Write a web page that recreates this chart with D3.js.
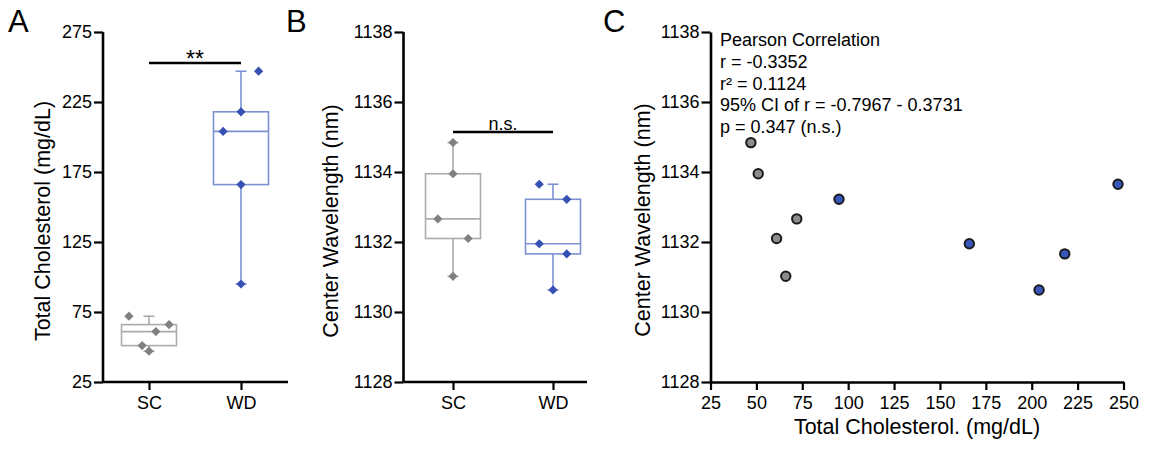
<!DOCTYPE html>
<html>
<head>
<meta charset="utf-8">
<script src="https://cdn.jsdelivr.net/npm/d3@7"></script>
<style>
  html, body { margin: 0; padding: 0; background: #fff; }
  svg { display: block; font-family: "Liberation Sans", Arial, sans-serif; }
</style>
</head>
<body>
<svg id="chart" width="1168" height="449"></svg>
<script>
// ---------- data (per animal, paired across panels) ----------
const groups = ["SC", "WD"];
const scCholesterol = [47, 51, 61, 66, 72];
const scWavelength  = [1134.84, 1133.95, 1132.10, 1131.02, 1132.66];
const wdCholesterol = [95, 166, 204, 218, 247];
const wdWavelength  = [1133.22, 1131.95, 1130.63, 1131.66, 1133.65];

const cholTicks = [25, 75, 125, 175, 225, 275];
const waveTicks = [1128, 1130, 1132, 1134, 1136, 1138];
const cholXTicks = [25, 50, 75, 100, 125, 150, 175, 200, 225, 250];

const statsLines = ["Pearson Correlation", "r = -0.3352", "r² = 0.1124",
                    "95% CI of r = -0.7967 - 0.3731", "p = 0.347 (n.s.)"];
const sigA = "**";
const sigB = "n.s.";

// ---------- layout / style (not data) ----------
const jitterA = { SC: [0, -0.25, 0.25, 0.73, -0.73], WD: [0, 0, -0.65, 0, 0.64] };
const jitterB = { SC: [0, 0, 0.55, 0, -0.55], WD: [0.5, -0.5, 0, 0.5, -0.5] };
const boxStroke = { SC: "#ababab", WD: "#7d91d2" };
const pointFill = { SC: "#808080", WD: "#3651b3" };
const dotFill = { SC: "#8c8c8c", WD: "#3757bd" };
const FONT_TICK = 18, FONT_TITLE = 21.5;

const svg = d3.select("#chart");

function styleAxis(g) {
  g.selectAll(".domain").attr("stroke", "#000").attr("stroke-width", 2.6);
  g.selectAll(".tick line").attr("stroke", "#000").attr("stroke-width", 2.2);
  g.selectAll(".tick text").attr("fill", "#000").attr("font-size", FONT_TICK)
    .attr("font-family", "Liberation Sans, Arial, sans-serif");
}

const diamond = (s) => `M0,${-s}L${s},0L0,${s}L${-s},0Z`;

function boxPanel(opt) {
  const g = svg.append("g");
  const y = d3.scaleLinear().domain(opt.yDomain).range([382, 32]);
  const x = d3.scalePoint().domain(groups).range(opt.xRange).padding(0.5);

  const yAxis = g.append("g").attr("transform", `translate(${opt.x0},0)`)
    .call(d3.axisLeft(y).tickValues(opt.yTicks).tickSize(9).tickSizeOuter(0).tickPadding(2)
      .tickFormat(d3.format("d")));
  styleAxis(yAxis);
  yAxis.select(".domain").attr("d", `M0,${y(opt.yDomain[0])}V${y(opt.yDomain[1])}`);

  const xAxis = g.append("g").attr("transform", `translate(0,${y(opt.yDomain[0])})`)
    .call(d3.axisBottom(x).tickSize(8).tickSizeOuter(0).tickPadding(6));
  styleAxis(xAxis);
  xAxis.select(".domain").attr("d", `M${opt.x0},0H${opt.x1}`);

  const halfW = 27.5;
  opt.series.forEach(([grp, vals, jit]) => {
    const cx = x(grp);
    const s = vals.slice().sort(d3.ascending);
    const q1 = d3.quantile(s, 0.25), med = d3.quantile(s, 0.5), q3 = d3.quantile(s, 0.75);
    const lo = s[0], hi = s[s.length - 1];
    const col = boxStroke[grp];
    const bg = g.append("g").attr("stroke", col).attr("stroke-width", 1.6).attr("fill", "none");
    bg.append("line").attr("x1", cx).attr("x2", cx).attr("y1", y(q3)).attr("y2", y(hi));
    bg.append("line").attr("x1", cx).attr("x2", cx).attr("y1", y(q1)).attr("y2", y(lo));
    bg.append("line").attr("x1", cx - 5.5).attr("x2", cx + 5.5).attr("y1", y(hi)).attr("y2", y(hi));
    bg.append("line").attr("x1", cx - 5.5).attr("x2", cx + 5.5).attr("y1", y(lo)).attr("y2", y(lo));
    bg.append("rect").attr("x", cx - halfW).attr("width", 2 * halfW)
      .attr("y", y(q3)).attr("height", y(q1) - y(q3));
    bg.append("line").attr("x1", cx - halfW).attr("x2", cx + halfW).attr("y1", y(med)).attr("y2", y(med));
    g.append("g").selectAll("path").data(vals).join("path")
      .attr("d", diamond(4.6))
      .attr("fill", pointFill[grp])
      .attr("transform", (d, i) => `translate(${cx + jit[i] * halfW},${y(d)})`);
  });

  // significance bar
  g.append("line").attr("x1", x("SC")).attr("x2", x("WD"))
    .attr("y1", opt.sigY).attr("y2", opt.sigY).attr("stroke", "#000").attr("stroke-width", 2.6);
  g.append("text").attr("x", (x("SC") + x("WD")) / 2 + opt.sigDx).attr("y", opt.sigTextY)
    .attr("text-anchor", "middle").attr("font-size", opt.sigSize).text(opt.sigText);

  // y title
  g.append("text").attr("transform", `translate(${opt.titleX},221) rotate(-90)`)
    .attr("text-anchor", "middle").attr("font-size", FONT_TITLE).text(opt.title);
  // panel letter
  g.append("text").attr("x", opt.letterX).attr("y", 32).attr("font-size", 31).text(opt.letter);
}

boxPanel({
  x0: 103, x1: 288, xRange: [103, 287], yDomain: [25, 275], yTicks: cholTicks,
  series: [["SC", scCholesterol, jitterA.SC], ["WD", wdCholesterol, jitterA.WD]],
  sigY: 63, sigText: sigA, sigTextY: 67, sigSize: 23, sigDx: 0,
  title: "Total Cholesterol (mg/dL)", titleX: 49.5, letter: "A", letterX: 8
});

boxPanel({
  x0: 403.5, x1: 587, xRange: [403, 603], yDomain: [1128, 1138], yTicks: waveTicks,
  series: [["SC", scWavelength, jitterB.SC], ["WD", wdWavelength, jitterB.WD]],
  sigY: 132, sigText: sigB, sigTextY: 130, sigSize: FONT_TICK, sigDx: 0,
  title: "Center Wavelength (nm)", titleX: 337.5, letter: "B", letterX: 286
});

// ---------- panel C: scatter ----------
(function () {
  const g = svg.append("g");
  const x = d3.scaleLinear().domain([25, 250]).range([710.5, 1123.5]);
  const y = d3.scaleLinear().domain([1128, 1138]).range([382, 32]);

  const yAxis = g.append("g").attr("transform", `translate(${x(25)},0)`)
    .call(d3.axisLeft(y).tickValues(waveTicks).tickSize(9).tickSizeOuter(0).tickPadding(2)
      .tickFormat(d3.format("d")));
  styleAxis(yAxis);
  const xAxis = g.append("g").attr("transform", `translate(0,${y(1128)})`)
    .call(d3.axisBottom(x).tickValues(cholXTicks).tickSize(8).tickSizeOuter(0).tickPadding(6)
      .tickFormat(d3.format("d")));
  styleAxis(xAxis);

  const pts = [];
  scCholesterol.forEach((c, i) => pts.push({ grp: "SC", x: c, y: scWavelength[i] }));
  wdCholesterol.forEach((c, i) => pts.push({ grp: "WD", x: c, y: wdWavelength[i] }));
  g.append("g").selectAll("circle").data(pts).join("circle")
    .attr("cx", d => x(d.x)).attr("cy", d => y(d.y)).attr("r", 4.7)
    .attr("fill", d => dotFill[d.grp]).attr("stroke", "#1a1a1a").attr("stroke-width", 2);

  g.append("g").selectAll("text").data(statsLines).join("text")
    .attr("x", 720).attr("y", (d, i) => 46 + i * 21.8)
    .attr("font-size", FONT_TICK).text(d => d);

  g.append("text").attr("x", 917).attr("y", 434).attr("text-anchor", "middle")
    .attr("font-size", FONT_TITLE).text("Total Cholesterol. (mg/dL)");
  g.append("text").attr("transform", `translate(649.5,220) rotate(-90)`)
    .attr("text-anchor", "middle").attr("font-size", FONT_TITLE).text("Center Wavelength (nm)");
  g.append("text").attr("x", 603).attr("y", 32).attr("font-size", 31).text("C");
})();
</script>
</body>
</html>
